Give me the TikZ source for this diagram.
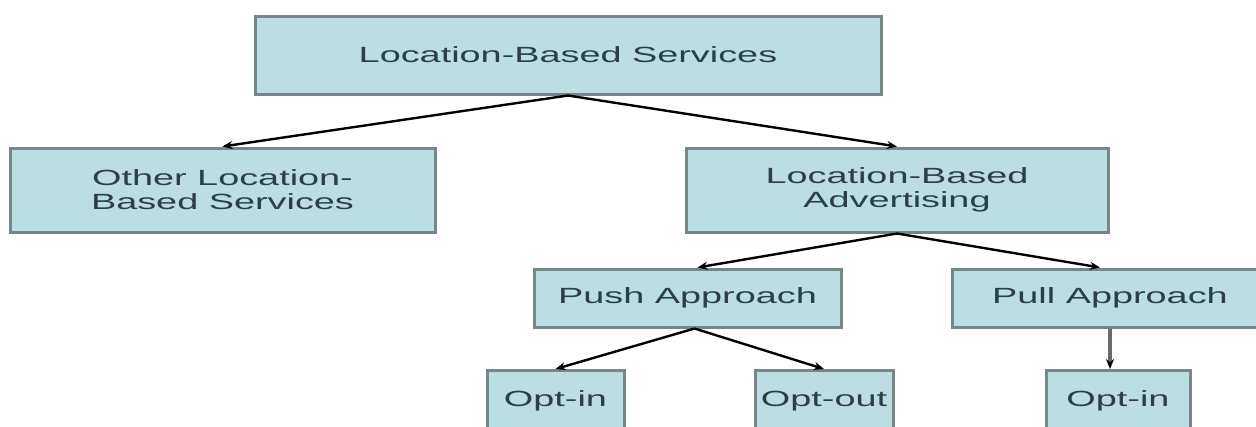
\documentclass[tikz,border=0pt]{standalone}
\usepackage{fontspec}
\newfontfamily\boxfont[FakeStretch=1.72]{Liberation Sans}
\usetikzlibrary{arrows.meta}
\definecolor{boxfill}{RGB}{186,222,226}
\definecolor{boxline}{RGB}{118,134,137}
\definecolor{boxtext}{RGB}{45,62,68}
\definecolor{pullline}{RGB}{105,105,105}

\begin{document}
\begin{tikzpicture}[x=1pt,y=-1pt,
  lbsbox/.style={draw=boxline,line width=3pt,fill=boxfill,text=boxtext,
    font=\boxfont\fontsize{22}{24}\selectfont,align=center,inner sep=0pt},
  link/.style={line width=2.4pt,-{Stealth[length=10pt,width=8pt,black]}}]
\clip (0,0) rectangle (1256,426);
% top level
\node[lbsbox,minimum width=626pt,minimum height=78pt] (lbs) at (568,55) {Location-Based Services};
% second level
\node[lbsbox,minimum width=425pt,minimum height=84pt] (other) at (222.5,190) {Other Location-\\Based Services};
\node[lbsbox,minimum width=422pt,minimum height=84pt] (lba) at (897,190) {Location-Based\\Advertising};
% approaches
\node[lbsbox,minimum width=307pt,minimum height=58pt] (push) at (687.5,298) {Push Approach};
\node[lbsbox,minimum width=316pt,minimum height=58pt] (pull) at (1110,298) {Pull Approach};
% opt-in / opt-out (cut off at the bottom)
\node[lbsbox,minimum width=137pt,minimum height=61pt] (pushin) at (555.5,401) {Opt-in};
\node[lbsbox,minimum width=138pt,minimum height=61pt] (pushout) at (824,401) {Opt-out};
\node[lbsbox,minimum width=144pt,minimum height=61pt] (pullin) at (1118,401) {Opt-in};
% connectors
\draw[link] (lbs.south) -- (other.north);
\draw[link] (lbs.south) -- (lba.north);
\draw[link] (lba.south) -- ([xshift=10pt]push.north);
\draw[link] (lba.south) -- ([xshift=-10pt]pull.north);
\draw[link] ([xshift=7pt]push.south) -- (pushin.north);
\draw[link] ([xshift=7pt]push.south) -- (pushout.north);
\draw[link,draw=pullline,line width=4.5pt] (pull.south) -- (pull.south |- pullin.north);
\end{tikzpicture}
\end{document}
